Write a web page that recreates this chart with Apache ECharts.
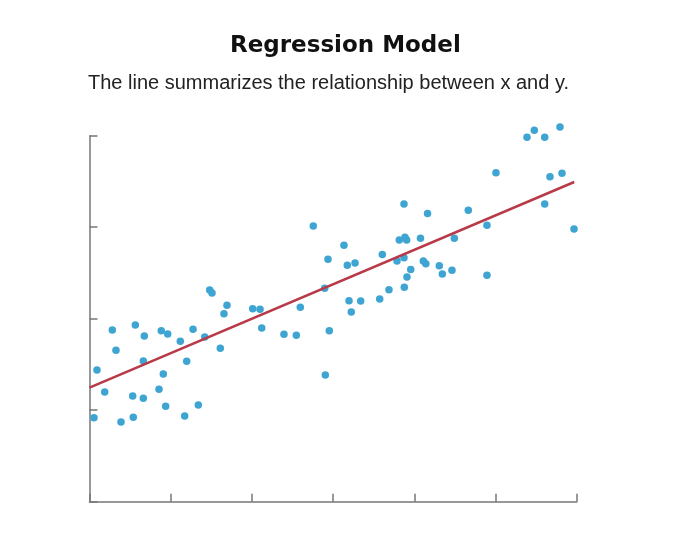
<!DOCTYPE html>
<html>
<head>
<meta charset="utf-8">
<script src="https://cdn.jsdelivr.net/npm/echarts@6/dist/echarts.min.js"></script>
<style>
  html, body { margin: 0; padding: 0; background: #fff; }
  #chart { width: 680px; height: 539px; }
</style>
</head>
<body>
<div id="chart"></div>
<script>
// scatter points (x on 0..6, y on 0..4)
const xValues = [
  0.055, 0.092, 0.187, 0.281, 0.326, 0.388, 0.532, 0.539, 0.564, 0.663,
  0.663, 0.675, 0.856, 0.884, 0.909, 0.938, 0.963, 1.118, 1.172, 1.197,
  1.275, 1.340, 1.419, 1.480, 1.509, 1.611, 1.656, 1.693, 2.010, 2.100,
  2.121, 2.395, 2.547, 2.596, 2.756, 2.897, 2.904, 2.937, 2.953, 3.134,
  3.175, 3.196, 3.224, 3.270, 3.340, 3.574, 3.606, 3.688, 3.787, 3.815,
  3.873, 3.873, 3.877, 3.885, 3.906, 3.910, 3.956, 4.076, 4.111, 4.142,
  4.163, 4.308, 4.345, 4.464, 4.493, 4.665, 4.895, 4.895, 5.006, 5.388,
  5.478, 5.606, 5.606, 5.671, 5.794, 5.819, 5.967
];
const yValues = [
  0.918, 1.439, 1.199, 1.877, 1.655, 0.871, 1.155, 0.922, 1.931, 1.538,
  1.130, 1.811, 1.228, 1.869, 1.396, 1.043, 1.833, 1.753, 0.937, 1.534,
  1.884, 1.057, 1.800, 2.314, 2.281, 1.677, 2.055, 2.146, 2.109, 2.103,
  1.898, 1.830, 1.819, 2.125, 3.013, 2.332, 1.385, 2.649, 1.869, 2.802,
  2.584, 2.197, 2.073, 2.609, 2.193, 2.215, 2.702, 2.317, 2.631, 2.860,
  3.254, 2.667, 2.344, 2.890, 2.860, 2.456, 2.538, 2.879, 2.631, 2.601,
  3.150, 2.579, 2.489, 2.529, 2.879, 3.185, 3.021, 2.474, 3.596, 3.983,
  4.059, 3.983, 3.254, 3.552, 4.095, 3.589, 2.980
];

// fitted line end points
const lineX = [0, 5.97];
const lineY = [1.246, 3.494];

const points = xValues.map((x, i) => [x, yValues[i]]);
const fit = lineX.map((x, i) => [x, lineY[i]]);

const chart = echarts.init(document.getElementById('chart'));

const tickStyle = { color: '#777', width: 1.5 };

chart.setOption({
  animation: false,
  title: [
    {
      text: 'Regression Model',
      left: 230,
      top: 35,
      padding: 0,
      textStyle: {
        fontFamily: 'DejaVu Sans',
        fontWeight: 'bold',
        fontSize: 23,
        color: '#111'
      }
    },
    {
      text: 'The line summarizes the relationship between x and y.',
      left: 88,
      top: 73,
      padding: 0,
      textStyle: {
        fontFamily: 'Liberation Sans',
        fontWeight: 'normal',
        fontSize: 20,
        color: '#222'
      }
    }
  ],
  grid: { left: 89.5, right: 103.3, top: 135.7, bottom: 37.3 },
  xAxis: {
    type: 'value',
    min: 0,
    max: 6,
    interval: 1,
    axisLine: { lineStyle: tickStyle },
    axisTick: { show: true, inside: true, length: 8, lineStyle: tickStyle },
    axisLabel: { show: false },
    splitLine: { show: false }
  },
  yAxis: {
    type: 'value',
    min: 0,
    max: 4,
    interval: 1,
    axisLine: { show: true, lineStyle: tickStyle },
    axisTick: { show: true, inside: true, length: 8, lineStyle: tickStyle },
    axisLabel: { show: false },
    splitLine: { show: false }
  },
  series: [
    {
      type: 'scatter',
      data: points,
      symbolSize: 7.5,
      clip: false,
      itemStyle: { color: '#3ea5d3', opacity: 1 }
    },
    {
      type: 'line',
      data: fit,
      symbol: 'none',
      lineStyle: { color: '#b83a48', width: 2.5 },
      z: 3
    }
  ]
});
</script>
</body>
</html>
